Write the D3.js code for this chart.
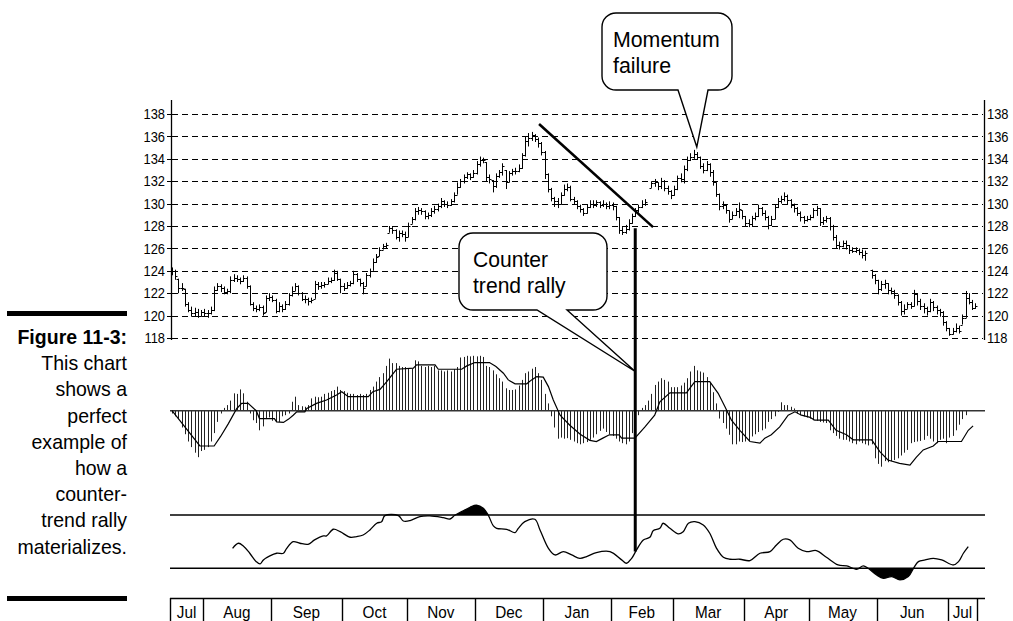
<!DOCTYPE html>
<html><head><meta charset="utf-8">
<script src="https://cdn.jsdelivr.net/npm/d3@7"></script>
<style>
body{margin:0;background:#fff;}
svg{display:block;font-family:"Liberation Sans",Arial,Helvetica,sans-serif;}
</style></head><body>
<svg id="c" width="1013" height="621"></svg>
<script>
// ---------- DATA ----------
const months = ["Jul","Aug","Sep","Oct","Nov","Dec","Jan","Feb","Mar","Apr","May","Jun","Jul"];
const monthBounds = [-0.5,9.5,30.5,52.5,72.5,93.5,114.5,135.5,154.5,176.5,196.5,217.5,239.5,248.5];
const priceTicks = [118,120,122,124,126,128,130,132,134,136,138];

const close = [
124.0,123.5,122.5,122.5,121.0,120.5,120.2,120.3,120.0,120.3,
120.2,120.2,120.5,122.3,122.6,122.5,122.1,122.2,123.2,123.4,
123.3,123.1,123.4,122.6,121.0,120.7,120.6,120.8,120.2,121.6,
121.7,121.4,120.4,120.9,120.6,121.0,121.8,122.2,122.6,122.0,
121.5,121.5,121.3,121.4,122.8,122.6,122.7,122.8,123.1,123.2,
123.8,123.3,122.6,122.5,122.7,122.9,123.7,123.3,122.9,122.5,
123.6,124.0,124.8,125.2,125.9,126.2,126.3,127.8,127.6,127.0,
127.4,127.3,127.0,128.0,128.6,129.3,129.4,129.3,128.9,129.0,
129.3,129.5,129.8,130.2,130.0,129.9,130.2,130.8,131.5,132.0,
132.4,132.6,132.4,132.7,133.5,133.9,133.9,132.4,132.2,131.6,
132.5,132.8,133.4,131.9,132.7,132.9,132.9,133.2,134.3,135.6,
135.9,136.1,135.8,135.4,134.6,132.6,131.3,130.5,130.2,130.0,
130.8,131.3,131.5,130.4,130.2,129.8,129.5,129.2,129.7,130.0,
129.9,130.1,129.9,130.0,129.8,129.9,129.8,128.8,127.6,127.5,
127.7,128.3,128.9,129.4,129.7,130.0,130.1,null,131.8,131.9,
131.6,132.0,131.4,131.1,130.8,131.3,132.3,132.2,133.1,133.9,
134.2,134.4,134.2,133.4,133.0,133.5,132.8,131.9,130.9,129.8,
129.9,129.4,128.6,129.0,129.3,129.5,128.9,128.3,128.2,128.7,
128.9,129.6,129.2,128.8,128.1,128.6,129.7,130.2,130.4,130.7,
130.3,129.9,129.6,129.2,128.8,128.5,128.6,128.8,129.4,129.6,
128.4,128.5,128.7,128.0,127.0,126.3,126.2,126.5,126.3,125.9,
125.8,125.9,125.7,125.4,125.6,null,123.6,123.2,122.4,122.8,
122.9,122.3,122.2,121.8,121.2,120.4,120.6,121.0,120.9,121.9,
121.3,120.9,120.7,120.4,121.2,120.8,120.5,120.3,119.4,118.9,
118.4,118.6,118.9,118.6,119.8,121.6,121.2,120.7,120.9];

const high = [
124.3,124.1,123.3,122.9,122.4,121.2,120.8,120.7,120.6,120.5,
120.6,120.5,120.8,122.6,122.9,122.8,122.6,122.4,123.5,123.7,
123.6,123.4,123.6,123.5,122.7,121.2,120.9,121.0,120.9,121.8,
122.0,121.8,121.5,121.2,121.0,121.3,122.0,122.6,122.9,122.7,
122.1,121.8,121.6,121.6,123.1,123.0,123.0,123.0,123.4,123.4,
124.1,124.0,123.3,122.9,123.0,123.1,124.0,123.8,123.3,123.0,
123.8,124.2,125.1,125.5,126.1,126.4,126.5,128.0,127.9,127.7,
127.6,127.6,127.5,128.3,128.8,129.6,129.7,129.6,129.4,129.2,
129.6,129.8,130.0,130.5,130.3,130.2,130.4,131.0,131.9,132.2,
132.6,132.8,132.7,133.0,133.8,134.2,134.1,133.7,132.6,132.1,
132.7,133.0,133.6,133.0,132.9,133.1,133.2,133.5,134.5,136.0,
136.3,136.4,136.2,135.9,135.5,134.7,132.7,131.4,130.6,130.5,
131.0,131.7,131.8,131.6,130.6,130.3,129.9,129.6,129.9,130.3,
130.3,130.3,130.2,130.3,130.1,130.2,130.1,129.8,128.8,127.9,
128.1,128.6,129.1,129.6,129.9,130.3,130.4,null,132.0,132.2,
131.9,132.3,132.1,131.6,131.2,131.6,132.5,132.7,133.4,134.2,
134.5,134.8,134.6,134.2,133.6,133.8,133.6,133.0,131.9,130.9,
130.2,129.9,129.4,129.3,129.6,130.1,129.4,128.9,128.6,128.9,
129.2,129.9,129.7,129.4,128.9,128.9,129.9,130.5,130.7,131.0,
130.8,130.4,130.0,129.7,129.3,128.9,128.9,129.0,129.6,129.8,
129.6,128.8,128.9,128.8,128.1,127.2,126.6,126.7,126.7,126.3,
126.1,126.1,126.0,125.9,125.8,null,124.1,123.7,123.2,123.1,
123.2,122.9,122.5,122.3,121.9,121.3,121.0,121.2,121.2,122.3,
122.0,121.5,121.1,120.8,121.5,121.3,120.9,120.6,120.4,119.5,
118.9,118.9,119.3,119.1,120.1,122.2,122.0,121.4,121.1];

const low = [
123.6,123.2,122.0,122.2,120.8,120.3,119.9,119.9,119.8,119.9,
119.9,119.8,120.1,120.4,122.2,122.1,121.9,121.9,122.0,123.0,
123.0,122.8,123.0,122.4,120.9,120.4,120.3,120.4,120.0,120.3,
121.3,121.2,120.2,120.3,120.3,120.5,120.9,121.7,122.2,121.8,
121.3,121.1,120.9,121.1,121.5,122.3,122.4,122.5,122.8,122.9,
123.1,123.1,122.0,122.2,122.4,122.6,122.8,123.0,122.6,121.9,
122.6,123.4,124.0,124.7,125.3,125.9,126.0,127.4,127.3,126.8,
126.6,127.0,126.6,127.0,128.2,128.5,129.0,129.0,128.6,128.6,
128.8,129.1,129.3,129.6,129.7,129.6,129.8,130.1,130.8,131.4,
131.8,132.2,132.1,132.3,132.6,133.3,133.6,132.0,131.8,131.0,
131.4,132.3,132.5,131.3,131.9,132.5,132.6,132.8,133.1,134.2,
135.1,135.6,135.5,135.0,134.3,132.2,131.0,130.2,129.7,129.6,
129.9,130.7,131.1,130.2,129.9,129.5,129.2,128.9,129.1,129.6,
129.6,129.7,129.6,129.7,129.5,129.5,129.4,128.5,127.3,127.2,
127.3,127.6,128.2,128.8,129.2,129.6,129.8,null,131.4,131.5,
131.2,131.3,131.1,130.8,130.4,130.7,131.2,131.9,131.8,132.9,
133.8,134.0,133.9,133.1,132.7,132.9,132.4,131.6,130.6,129.4,
129.5,129.1,128.3,128.6,128.9,128.7,128.6,128.0,127.9,128.0,
128.5,128.8,128.9,128.5,127.7,128.0,128.6,129.6,130.0,130.2,
129.9,129.6,129.2,128.9,128.4,128.2,128.4,128.5,128.7,128.9,
128.0,128.1,128.3,127.6,126.7,126.0,125.9,126.1,125.9,125.5,
125.6,125.6,125.4,125.1,124.9,null,123.3,122.8,121.9,122.2,
122.4,121.9,121.9,121.5,120.9,120.0,120.1,120.6,120.6,120.8,
120.9,120.5,120.2,120.0,120.3,120.4,120.1,119.9,119.1,118.6,
118.2,118.3,118.5,118.4,119.2,119.8,121.0,120.5,120.6];

const macdHist = [
-5,-10,-15,-30,-42,-55,-65,-75,-83,-72,
-70,-65,-55,-40,-20,-5,5,10,18,31,
30,38,31,16,-5,-17,-22,-35,-28,-15,
-12,-18,-20,-20,-10,-8,-5,16,25,10,
8,7,10,22,25,24,25,30,32,35,
37,43,37,35,32,30,30,28,30,28,
30,37,43,52,60,67,80,93,85,85,
80,78,78,76,75,90,88,80,78,80,
78,80,72,72,70,72,70,74,78,95,
96,98,97,98,97,98,96,80,78,72,
65,58,52,40,37,37,38,45,55,67,
70,75,78,67,55,30,13,-10,-30,-50,
-48,-50,-49,-52,-55,-58,-60,-58,-56,-52,
-48,-42,-36,-32,-38,-42,-45,-50,-55,-58,
-60,-55,-40,-17,-8,5,10,18,30,46,
52,58,55,52,42,42,42,45,50,58,
70,80,72,70,68,60,50,33,13,-14,
-22,-32,-43,-60,-60,-55,-56,-55,-54,-46,
-42,-38,-35,-32,-20,-15,-10,-2,15,10,
10,7,4,-5,-8,-10,-12,-14,-17,-18,
-20,-21,-22,-35,-40,-45,-50,-52,-52,-55,
-58,-60,-55,-58,-60,-62,-60,-85,-95,-100,
-90,-92,-90,-88,-85,-80,-75,-70,-58,-56,
-55,-54,-52,-45,-50,-55,-58,-52,-50,-58,
-48,-45,-35,-25,-15,-8];

const signalDays = [0,8.6,13,15,17.4,20,21.5,23.5,26,27,
31.6,32.3,34.4,36,37.4,38.5,41,41.6,44.6,47.7,
50.8,52.4,54.4,60.6,62,64.2,66.3,69.3,74.5,75.5,
81.2,82.2,89.4,91,93.5,98,100,102.3,103.8,105.9,
109.5,111,112.6,114.6,116.2,117.7,119.8,122.8,126,129,
131,133,135,138,138.8,142.9,146,149,150.6,153.7,
158.8,161.4,166,168.6,170.7,172.7,175.3,178.4,181.5,183,
185,187.6,190.2,192.3,194.3,197,198.4,202.6,205,208.2,
210.3,216,218.5,221,224.6,227.8,229.8,231.9,235,236.5,
243.7,245.8,247.3];
const signalVals = [0,-63,-63,-46,-23,4,13,13,0,-14,
-14,-20,-21,-15,-8,-2,-2,4,13,19,
28,34,25,25,34,38,52,74,76,82,
82,74,74,80,86,86,79,67,55,48,
48,55,61,60,43,19,-8,-26,-42,-53,
-55,-49,-43,-43,-49,-49,-29,-8,16,32,
32,52,52,31,7,-17,-35,-55,-58,-49,
-43,-29,-8,-2,-8,-12,-17,-17,-35,-43,
-52,-52,-73,-88,-94,-97,-83,-70,-63,-55,
-55,-35,-27];

const oscDays = [18.7,20.5,22,24,26,27.2,28.2,30.2,32.3,34.4,
35.4,37.4,39.5,42,44,46.7,47.7,49.8,51.9,55,
57,59,61.1,63.2,64.7,65.7,69.9,71.4,73.5,76.5,
79.6,83.7,85.8,87.3,89.4,92,94,96.1,97.6,99.2,
100.2,103.3,105.9,106.9,108.9,112,113.6,116.2,118.2,120.8,
123.4,125.9,128,
131,135.2,138.8,140.3,141.9,143.4,145.5,
147.5,148.6,150.6,151.6,153.7,156.3,157.8,159.4,161.4,164,
166,168.1,170.2,172.2,175.3,178.4,181.5,184.6,186.6,188.7,
190.7,193.3,195.9,198.9,202,205.6,208.3,211.3,213.4,214.9,
217.5,219.6,222.2,224.7,227.3,228.9,230.4,232.5,235,237.6,
241.2,242.8,244.3,245.8];
const oscVals = [45,48.8,46.8,41.3,35,33.3,36.3,39.3,41.3,41.3,
45,50,48.8,48,51.3,54.3,54.3,59.3,57.5,53.3,
53.8,55,58.8,63.8,65,69.5,69.5,65.5,65.8,68.8,
69.3,68,67,69.8,72.5,75.8,77.3,75,70,61.8,
60,59.3,56.8,60,65,66.8,58.8,45,40,42.5,
40,37.5,38.8,
41.8,42.5,36.3,33.8,37.5,43.8,51.3,
53.3,58.3,60,63.8,60,55.8,57.5,63.8,65,62.5,
56.3,45,38.3,36.8,36.8,35.8,41.3,42.5,47.5,51.8,
51.3,45,42.5,43.3,38.3,32.5,31.8,29.3,31.8,30,
25,22.5,23.8,21.3,23.8,30,35,36.3,37.5,36.3,
32.5,35,41.3,46.3];
const oscBands = [30, 70];

// annotations (data coordinates)
const trendLine = [[113.3,137.1],[148.5,127.9]];
const rallyDay = 143;
const rallyTop = 127.8;
const rallyBottom = 42.6;
const momentumTip = [162, 135.05];
const rallyTipMacd = 70;
const captionLines = ["Figure 11-3:","This chart","shows a","perfect","example of","how a","counter-","trend rally","materializes."];

// ---------- SCALES ----------
const x = d3.scaleLinear().domain([-0.5, 248.5]).range([170.4, 977]);
const yP = d3.scaleLinear().domain([118, 138]).range([338, 114]);
const yM = d3.scaleLinear().domain([-100, 100]).range([466.7, 354.7]);
const yO = d3.scaleLinear().domain([30, 70]).range([568.3, 515]);
const L = 171, R = 984;
const px = v => Math.round(v) + 0.5;

const svg = d3.select("#c");

function label(parent, tx, ty, s, o) {
  return parent.append("text")
    .attr("transform", `translate(${tx},${ty}) scale(${o.sx || 1},1)`)
    .attr("text-anchor", o.anchor || "start")
    .attr("font-size", o.size)
    .attr("font-weight", o.weight || "normal")
    .attr("fill", "#000")
    .text(s);
}

// ---------- PRICE PANEL ----------
const g = svg.append("g");
g.selectAll("line.grid").data(priceTicks).join("line")
  .attr("x1", L+1).attr("x2", R-1)
  .attr("y1", d => px(yP(d))).attr("y2", d => px(yP(d)))
  .attr("stroke", "#000").attr("stroke-width", 1).attr("stroke-dasharray", "6,4");
// left ticks
g.selectAll("line.tk").data(priceTicks).join("line")
  .attr("x1", L-4).attr("x2", L)
  .attr("y1", d => px(yP(d))).attr("y2", d => px(yP(d)))
  .attr("stroke", "#000").attr("stroke-width", 1);
priceTicks.forEach(t => {
  label(g, 165, yP(t) + 5.2, d3.format("d")(t), {size: 15, sx: 0.86, anchor: "end"});
  label(g, 987, yP(t) + 5.2, d3.format("d")(t), {size: 15, sx: 0.86, anchor: "start"});
});
g.append("line").attr("x1", L+0.5).attr("x2", L+0.5).attr("y1", 100).attr("y2", 340).attr("stroke", "#000").attr("stroke-width", 1.3);
g.append("line").attr("x1", R+0.5).attr("x2", R+0.5).attr("y1", 100).attr("y2", 340).attr("stroke", "#000").attr("stroke-width", 1.3);

// OHLC bars
const bars = [];
let prev = null;
close.forEach((c, i) => {
  if (c === null) return;
  const o = prev === null ? c : Math.max(low[i], Math.min(high[i], prev));
  bars.push({d: i, o, c, h: high[i], l: low[i]});
  prev = c;
});
const bg = g.append("g").attr("stroke", "#000").attr("stroke-width", 1);
bg.selectAll("path").data(bars).join("path")
  .attr("fill", "none")
  .attr("d", b => {
    const xx = px(x(b.d));
    return `M${xx},${yP(b.h)}V${yP(b.l)}M${xx-2},${px(yP(b.o))}H${xx}M${xx},${px(yP(b.c))}H${xx+2}`;
  });

// trend line
g.append("line")
  .attr("x1", x(trendLine[0][0])).attr("y1", yP(trendLine[0][1]))
  .attr("x2", x(trendLine[1][0])).attr("y2", yP(trendLine[1][1]))
  .attr("stroke", "#000").attr("stroke-width", 2.6);

// ---------- MACD PANEL ----------
const m = svg.append("g");
m.selectAll("line.h").data(macdHist).join("line")
  .attr("x1", (d, i) => px(x(i))).attr("x2", (d, i) => px(x(i)))
  .attr("y1", yM(0)).attr("y2", d => yM(d))
  .attr("stroke", "#222").attr("stroke-width", 1);
m.append("line").attr("x1", 170).attr("x2", 985).attr("y1", yM(0)).attr("y2", yM(0))
  .attr("stroke", "#333").attr("stroke-width", 1.6);
const sig = signalDays.map((d, i) => [d, signalVals[i]]);
m.append("path").datum(sig)
  .attr("d", d3.line().x(d => x(d[0])).y(d => yM(d[1])))
  .attr("fill", "none").attr("stroke", "#000").attr("stroke-width", 1.2);

// ---------- OSCILLATOR PANEL ----------
const o = svg.append("g");
const osc = oscDays.map((d, i) => [d, oscVals[i]]);
const curve = d3.curveCatmullRom.alpha(0.5);
const defs = svg.append("defs");
defs.append("clipPath").attr("id", "above").append("rect")
  .attr("x", 0).attr("y", 0).attr("width", 1013).attr("height", yO(oscBands[1]));
defs.append("clipPath").attr("id", "below").append("rect")
  .attr("x", 0).attr("y", yO(oscBands[0])).attr("width", 1013).attr("height", 100);
o.append("path").datum(osc).attr("clip-path", "url(#above)")
  .attr("d", d3.area().x(d => x(d[0])).y0(yO(oscBands[1])).y1(d => yO(d[1])).curve(curve))
  .attr("fill", "#000");
o.append("path").datum(osc).attr("clip-path", "url(#below)")
  .attr("d", d3.area().x(d => x(d[0])).y0(yO(oscBands[0])).y1(d => yO(d[1])).curve(curve))
  .attr("fill", "#000");
o.selectAll("line.band").data(oscBands).join("line")
  .attr("x1", 170).attr("x2", 985).attr("y1", d => yO(d)).attr("y2", d => yO(d))
  .attr("stroke", "#000").attr("stroke-width", 1.4);
o.append("path").datum(osc)
  .attr("d", d3.line().x(d => x(d[0])).y(d => yO(d[1])).curve(curve))
  .attr("fill", "none").attr("stroke", "#000").attr("stroke-width", 1.3);

// ---------- MONTH AXIS ----------
const ma = svg.append("g");
ma.append("line").attr("x1", 170).attr("x2", 985).attr("y1", 598.5).attr("y2", 598.5)
  .attr("stroke", "#000").attr("stroke-width", 1.4);
ma.selectAll("line.sep").data(monthBounds).join("line")
  .attr("x1", d => px(x(d))).attr("x2", d => px(x(d))).attr("y1", 598).attr("y2", 621)
  .attr("stroke", "#000").attr("stroke-width", 1.4);
months.forEach((mn, i) => {
  label(ma, (x(monthBounds[i]) + x(monthBounds[i+1])) / 2, 617.5, mn, {size: 17, sx: 0.9, anchor: "middle"});
});

// ---------- ANNOTATIONS ----------
const a = svg.append("g");
a.append("line").attr("x1", x(rallyDay)).attr("x2", x(rallyDay))
  .attr("y1", yP(rallyTop)).attr("y2", yO(rallyBottom))
  .attr("stroke", "#000").attr("stroke-width", 3);

function callout(x0, y0, x1, y1, r, ba, bb, tx, ty) {
  return `M${x0+r},${y0}H${x1-r}A${r},${r} 0 0 1 ${x1},${y0+r}V${y1-r}A${r},${r} 0 0 1 ${x1-r},${y1}` +
    `H${bb}L${tx},${ty}L${ba},${y1}H${x0+r}A${r},${r} 0 0 1 ${x0},${y1-r}V${y0+r}A${r},${r} 0 0 1 ${x0+r},${y0}Z`;
}
a.append("path").attr("d", callout(602, 13, 732, 90, 14, 678, 708, x(momentumTip[0]), yP(momentumTip[1])))
  .attr("fill", "#fff").attr("stroke", "#000").attr("stroke-width", 1.4);
a.append("path").attr("d", callout(459, 233, 607, 310, 14, 537, 567, x(rallyDay), yM(rallyTipMacd)))
  .attr("fill", "#fff").attr("stroke", "#000").attr("stroke-width", 1.4);

label(a, 613, 47, "Momentum", {size: 22, sx: 0.97});
label(a, 613, 73, "failure", {size: 22, sx: 0.97});
label(a, 473, 267, "Counter", {size: 22, sx: 0.96});
label(a, 473, 293, "trend rally", {size: 22, sx: 0.96});

// ---------- CAPTION ----------
const cap = svg.append("g");
cap.append("rect").attr("x", 7).attr("y", 311).attr("width", 120).attr("height", 5).attr("fill", "#000");
cap.append("rect").attr("x", 7).attr("y", 596).attr("width", 120).attr("height", 5).attr("fill", "#000");
captionLines.forEach((s, i) => {
  label(cap, 127, 344 + i * 26.2, s, {size: 21, sx: 0.93, anchor: "end", weight: i === 0 ? "bold" : "normal"});
});
</script>
</body></html>
